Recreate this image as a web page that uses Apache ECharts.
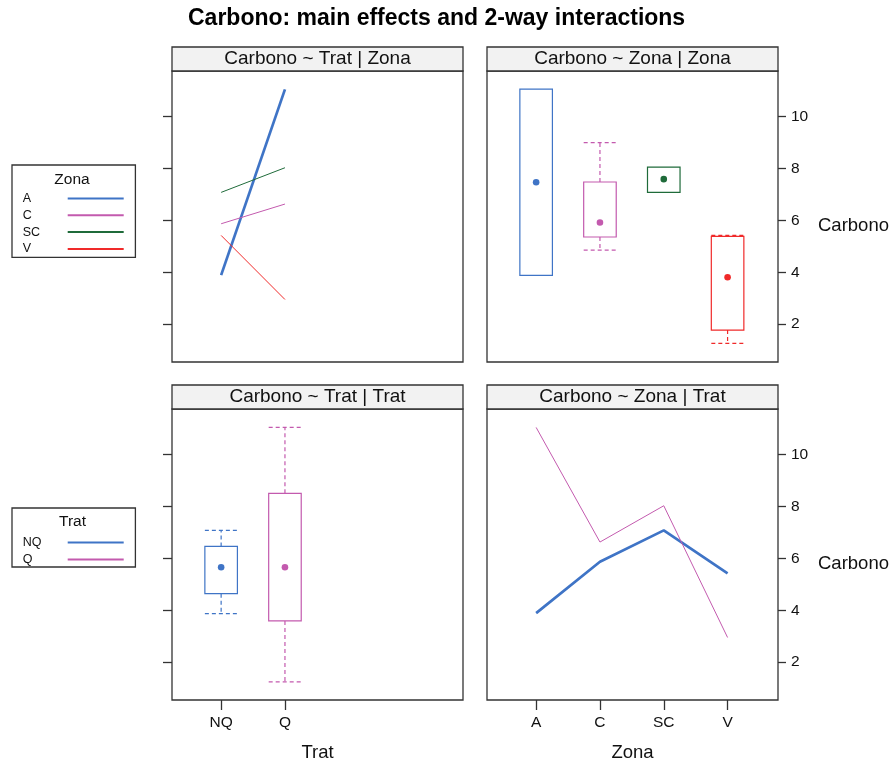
<!DOCTYPE html>
<html>
<head>
<meta charset="utf-8">
<title>Carbono: main effects and 2-way interactions</title>
<script src="https://cdn.jsdelivr.net/npm/echarts@6/dist/echarts.min.js"></script>
<style>
  html, body { margin: 0; padding: 0; background: #fff; }
  #chart { width: 895px; height: 764px; }
</style>
</head>
<body>
<div id="chart"></div>
<script>
// factor levels
const zonaLevels = ['A', 'C', 'SC', 'V']
const tratLevels = ['NQ', 'Q']
// mean Carbono per Zona, one array per Trat
const meanNQ = [3.89, 5.87, 7.08, 5.42]
const meanQ = [11.05, 6.63, 8.03, 2.95]
// box stats: min, lower hinge, median, upper hinge, max
const zonaBox = [
  [3.88, 3.88, 7.47, 11.06, 11.06],
  [4.85, 5.36, 5.92, 7.48, 9.00],
  [7.08, 7.08, 7.59, 8.05, 8.05],
  [1.26, 1.77, 3.81, 5.38, 5.42]
]
const tratBox = [
  [3.87, 4.64, 5.66, 6.46, 7.08],
  [1.24, 3.59, 5.66, 8.51, 11.05]
]
const yTicks = [2, 4, 6, 8, 10]
const stripLabels = [
  'Carbono ~ Trat | Zona', 'Carbono ~ Zona | Zona',
  'Carbono ~ Trat | Trat', 'Carbono ~ Zona | Trat'
]

const FONT = '"Liberation Sans", Arial, sans-serif'
const zonaColors = ['#3f74c6', '#c35aae', '#1f6b3a', '#f02a2a']
const tratColors = ['#3f74c6', '#c35aae']
const panels = [
  { left: 172, top: 71 }, { left: 487, top: 71 },
  { left: 172, top: 409 }, { left: 487, top: 409 }
]
const SIZE = 291

function boxRender(colors) {
  return function(params, api) {
    const x = api.value(0)
    const v = [1, 2, 3, 4, 5].map(k => api.value(k))
    const c = colors[params.dataIndex]
    const hw = 0.255
    const L = api.coord([x - hw, v[2]])[0]
    const R = api.coord([x + hw, v[2]])[0]
    const cx = api.coord([x, v[2]])[0]
    const yOf = val => api.coord([x, val])[1]
    const dash = { stroke: c, lineWidth: 1.2, lineDash: [4, 3], fill: null }
    const solid = { stroke: c, lineWidth: 1.2, fill: null }
    const ch = []
    if (v[4] > v[3]) {
      ch.push({ type: 'line', shape: { x1: cx, y1: yOf(v[3]), x2: cx, y2: yOf(v[4]) }, style: dash })
      ch.push({ type: 'line', shape: { x1: L, y1: yOf(v[4]), x2: R, y2: yOf(v[4]) }, style: dash })
    }
    if (v[1] > v[0]) {
      ch.push({ type: 'line', shape: { x1: cx, y1: yOf(v[1]), x2: cx, y2: yOf(v[0]) }, style: dash })
      ch.push({ type: 'line', shape: { x1: L, y1: yOf(v[0]), x2: R, y2: yOf(v[0]) }, style: dash })
    }
    ch.push({ type: 'rect', shape: { x: L, y: yOf(v[3]), width: R - L, height: yOf(v[1]) - yOf(v[3]) }, style: solid })
    ch.push({ type: 'circle', shape: { cx: cx, cy: yOf(v[2]), r: 3.3 }, style: { fill: c } })
    return { type: 'group', children: ch }
  }
}

const xAxes = panels.map((p, i) => {
  const ticks = i === 2 ? [1, 2] : [1, 2, 3, 4]
  const names = i === 2 ? tratLevels : zonaLevels
  return {
    type: 'value',
    gridIndex: i,
    min: 0.23,
    max: 4.79,
    show: i >= 2,
    name: i === 2 ? 'Trat' : (i === 3 ? 'Zona' : ''),
    nameLocation: 'middle',
    nameGap: 43,
    nameTextStyle: { fontSize: 18.5, color: '#111', fontFamily: FONT },
    splitLine: { show: false },
    axisLine: { show: false },
    axisTick: { show: true, length: 10, customValues: ticks, lineStyle: { color: '#333', width: 1.3 } },
    axisLabel: {
      customValues: ticks,
      margin: 15,
      fontSize: 15.5,
      color: '#111',
      fontFamily: FONT,
      formatter: val => names[Math.round(val) - 1]
    }
  }
})

const yAxes = panels.map((p, i) => {
  const right = i === 1 || i === 3
  return {
    type: 'value',
    gridIndex: i,
    min: 0.54,
    max: 11.76,
    position: right ? 'right' : 'left',
    name: right ? 'Carbono' : '',
    nameLocation: 'middle',
    nameGap: 40,
    nameRotate: 0,
    nameTextStyle: { fontSize: 18.5, color: '#111', fontFamily: FONT, verticalAlign: 'top' },
    splitLine: { show: false },
    axisLine: { show: false },
    axisTick: { show: true, length: right ? 8 : 9, customValues: yTicks, lineStyle: { color: '#333', width: 1.3 } },
    axisLabel: {
      show: right,
      customValues: yTicks,
      margin: 13,
      fontSize: 15.5,
      color: '#111',
      fontFamily: FONT
    }
  }
})

const series = []
zonaLevels.forEach((z, i) => {
  series.push({
    name: z,
    type: 'line',
    xAxisIndex: 0,
    yAxisIndex: 0,
    symbol: 'none',
    data: [[1, meanNQ[i]], [2, meanQ[i]]],
    itemStyle: { color: zonaColors[i] },
    lineStyle: { color: zonaColors[i], width: i === 0 ? 2.7 : 1 }
  })
})
series.push({
  name: 'Zona box',
  type: 'custom',
  xAxisIndex: 1,
  yAxisIndex: 1,
  renderItem: boxRender(zonaColors),
  encode: { x: 0, y: [1, 2, 3, 4, 5] },
  data: zonaBox.map((s, i) => [i + 1].concat(s))
})
series.push({
  name: 'Trat box',
  type: 'custom',
  xAxisIndex: 2,
  yAxisIndex: 2,
  renderItem: boxRender(tratColors),
  encode: { x: 0, y: [1, 2, 3, 4, 5] },
  data: tratBox.map((s, i) => [i + 1].concat(s))
})
;[meanNQ, meanQ].forEach((vals, t) => {
  series.push({
    name: tratLevels[t],
    type: 'line',
    xAxisIndex: 3,
    yAxisIndex: 3,
    symbol: 'none',
    data: vals.map((v, i) => [i + 1, v]),
    itemStyle: { color: tratColors[t] },
    lineStyle: { color: tratColors[t], width: t === 0 ? 2.7 : 1 }
  })
})

const graphics = []
panels.forEach((p, i) => {
  graphics.push({
    type: 'rect',
    z: 100,
    shape: { x: p.left, y: p.top - 24, width: SIZE, height: 24 },
    style: { fill: '#f2f2f2', stroke: '#333', lineWidth: 1.3 }
  })
  graphics.push({
    type: 'text',
    z: 101,
    x: p.left + SIZE / 2,
    y: p.top - 12,
    style: { text: stripLabels[i], font: '19px ' + FONT, fill: '#111', align: 'center', verticalAlign: 'middle' }
  })
})
graphics.push({
  type: 'text', z: 101, x: 72, y: 180,
  style: { text: 'Zona', font: '15.5px ' + FONT, fill: '#111', align: 'center', verticalAlign: 'middle' }
})
graphics.push({
  type: 'text', z: 101, x: 72.5, y: 522,
  style: { text: 'Trat', font: '15.5px ' + FONT, fill: '#111', align: 'center', verticalAlign: 'middle' }
})

function legendBox(names, top, padTop, padBottom, gap) {
  return {
    data: names,
    orient: 'vertical',
    left: 12,
    top: top,
    align: 'right',
    selectedMode: false,
    itemWidth: 56,
    itemHeight: 12,
    itemGap: gap,
    itemTextGap: 4,
    padding: [padTop, 10.7, padBottom, 10.7],
    borderColor: '#333',
    borderWidth: 1.3,
    backgroundColor: '#fff',
    itemStyle: { opacity: 0 },
    formatter: name => '{l|' + name + '}',
    textStyle: {
      width: 40,
      rich: { l: { align: 'left', fontSize: 12.5, color: '#111', lineHeight: 12, fontFamily: FONT } }
    }
  }
}

const chart = echarts.init(document.getElementById('chart'))
chart.setOption({
  animation: false,
  textStyle: { fontFamily: FONT },
  title: {
    text: 'Carbono: main effects and 2-way interactions',
    left: 188,
    top: 7,
    padding: 0,
    textStyle: { fontSize: 23, fontWeight: 'bold', color: '#000', fontFamily: FONT }
  },
  legend: [
    legendBox(zonaLevels, 165, 27, 2, 3.8),
    legendBox(tratLevels, 508, 28, 1, 4)
  ],
  grid: panels.map(p => ({
    left: p.left,
    top: p.top,
    width: SIZE,
    height: SIZE,
    show: true,
    borderColor: '#333',
    borderWidth: 1.3,
    backgroundColor: 'transparent'
  })),
  xAxis: xAxes,
  yAxis: yAxes,
  series: series,
  graphic: graphics
})
</script>
</body>
</html>
